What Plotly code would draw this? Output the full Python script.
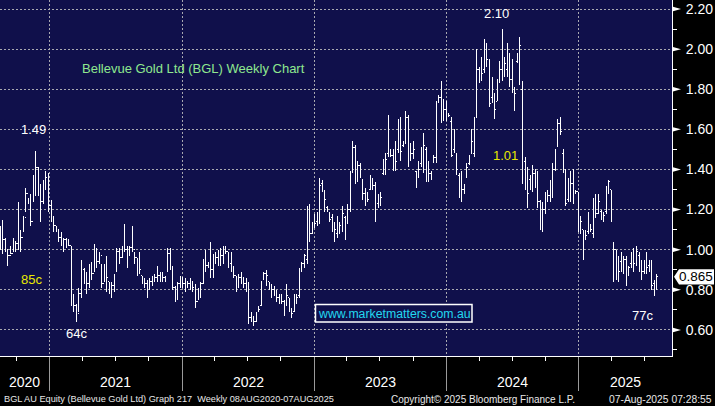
import pandas as pd
import plotly.graph_objects as go

# ---------------- data (weekly OHLC) ----------------
first_week = "2020-08-17"

highs = [1.12,1.15,1.06,1.00,1.02,1.06,1.04,1.24,1.10,1.17,1.31,1.26,1.28,1.37,1.49,1.41,1.33,1.35,1.39,1.38,
         1.25,1.17,1.12,1.10,1.09,1.06,1.06,1.05,1.02,0.78,0.73,0.81,0.95,0.91,0.89,0.93,0.94,1.03,1.01,0.99,
         0.93,0.93,0.97,0.84,0.84,0.88,1.01,1.01,1.02,1.13,1.02,1.02,1.12,0.99,0.96,0.99,0.87,0.86,0.85,0.86,
         0.87,0.88,0.92,0.89,0.89,0.87,1.01,1.01,0.92,0.82,0.84,0.87,0.86,0.86,0.84,0.86,0.84,0.83,0.81,0.84,
         0.95,1.00,0.94,1.04,0.98,0.99,1.00,1.01,1.02,1.02,0.99,0.99,0.92,0.87,0.88,0.89,0.86,0.86,0.84,0.69,
         0.67,0.69,0.72,0.84,0.89,0.90,0.84,0.83,0.82,0.80,0.78,0.78,0.75,0.83,0.76,0.71,0.78,0.78,0.91,0.94,
         0.98,1.22,1.23,1.14,1.18,1.19,1.36,1.35,1.30,1.22,1.19,1.18,1.14,1.17,1.14,1.22,1.17,1.23,1.39,1.54,
         1.52,1.44,1.43,1.35,1.31,1.29,1.37,1.36,1.34,1.28,1.29,1.45,1.48,1.67,1.50,1.50,1.54,1.65,1.66,1.54,
         1.69,1.67,1.53,1.54,1.39,1.44,1.51,1.58,1.51,1.44,1.39,1.47,1.74,1.77,1.84,1.75,1.74,1.68,1.66,1.60,
         1.48,1.38,1.39,1.33,1.43,1.47,1.60,1.66,2.00,1.91,1.96,2.05,2.03,1.95,1.86,1.78,1.85,1.94,2.10,1.96,
         2.03,1.98,1.95,1.81,1.98,2.06,1.84,1.46,1.41,1.37,1.42,1.40,1.39,1.25,1.24,1.29,1.30,1.35,1.43,1.50,
         1.65,1.66,1.50,1.40,1.36,1.39,1.40,1.30,1.29,1.17,1.10,1.10,1.19,1.13,1.26,1.28,1.28,1.20,1.19,1.32,
         1.35,1.30,1.04,1.00,0.97,0.99,0.97,0.97,0.92,0.99,1.01,1.02,0.99,0.95,0.95,0.99,0.95,0.95,0.85,0.88]

lows = [1.00,0.98,0.99,0.92,0.98,0.99,0.99,1.00,0.99,1.09,1.19,1.23,1.12,1.24,1.27,1.27,1.14,1.23,1.30,1.19,
        1.14,1.09,1.09,1.04,1.02,0.99,1.01,1.02,0.72,0.69,0.64,0.69,0.76,0.83,0.78,0.81,0.85,0.89,0.91,0.93,
        0.81,0.84,0.79,0.78,0.76,0.79,0.89,0.93,0.96,0.99,0.91,0.97,0.99,0.93,0.87,0.88,0.83,0.81,0.76,0.80,
        0.82,0.84,0.84,0.84,0.84,0.84,0.89,0.90,0.80,0.74,0.75,0.81,0.81,0.79,0.81,0.80,0.79,0.71,0.75,0.76,
        0.83,0.89,0.91,0.86,0.86,0.93,0.92,0.92,0.93,0.98,0.91,0.89,0.86,0.79,0.81,0.83,0.81,0.79,0.63,0.64,
        0.62,0.64,0.69,0.72,0.85,0.82,0.80,0.76,0.77,0.74,0.73,0.73,0.67,0.72,0.69,0.66,0.69,0.73,0.76,0.89,
        0.91,0.93,1.04,1.08,1.11,1.12,1.13,1.29,1.19,1.19,1.14,1.09,1.04,1.06,1.08,1.09,1.05,1.13,1.19,1.38,
        1.33,1.34,1.36,1.25,1.22,1.24,1.30,1.30,1.14,1.21,1.22,1.37,1.37,1.46,1.46,1.39,1.39,1.48,1.44,1.51,
        1.53,1.41,1.44,1.45,1.31,1.36,1.41,1.38,1.34,1.34,1.35,1.43,1.43,1.73,1.63,1.64,1.64,1.66,1.46,1.48,
        1.37,1.26,1.24,1.28,1.36,1.42,1.48,1.46,1.66,1.83,1.84,1.88,1.91,1.71,1.73,1.65,1.74,1.83,1.84,1.86,
        1.86,1.81,1.78,1.69,1.93,1.82,1.33,1.30,1.21,1.30,1.29,1.31,1.21,1.10,1.09,1.18,1.24,1.24,1.26,1.39,
        1.51,1.57,1.38,1.22,1.24,1.24,1.23,1.28,1.09,1.08,0.95,1.05,1.08,1.09,1.06,1.16,1.18,1.15,1.14,1.18,
        1.28,1.14,0.84,0.85,0.84,0.89,0.88,0.82,0.87,0.91,0.89,0.92,0.89,0.85,0.88,0.88,0.89,0.80,0.77,0.80]

closes = [1.05,1.05,1.00,0.97,0.98,1.04,1.03,1.02,1.06,1.16,1.28,1.24,1.14,1.36,1.41,1.30,1.24,1.34,1.36,1.22,
          1.16,1.12,1.10,1.06,1.04,1.05,1.05,1.02,0.75,0.72,0.68,0.78,0.90,0.88,0.83,0.90,0.88,0.97,0.94,0.97,
          0.83,0.90,0.86,0.81,0.82,0.86,0.99,0.96,0.99,1.00,0.97,1.01,1.00,0.96,0.90,0.90,0.85,0.83,0.82,0.84,
          0.85,0.86,0.87,0.86,0.86,0.85,0.98,0.93,0.81,0.77,0.83,0.86,0.83,0.84,0.83,0.84,0.81,0.74,0.79,0.83,
          0.95,0.92,0.93,0.90,0.96,0.96,0.98,0.97,1.00,0.99,0.93,0.91,0.87,0.85,0.86,0.86,0.83,0.82,0.66,0.66,
          0.64,0.67,0.70,0.84,0.88,0.87,0.82,0.80,0.78,0.76,0.75,0.74,0.73,0.77,0.70,0.68,0.74,0.76,0.90,0.93,
          0.97,1.20,1.08,1.10,1.13,1.12,1.32,1.33,1.25,1.20,1.15,1.11,1.10,1.12,1.12,1.18,1.15,1.20,1.38,1.51,
          1.37,1.42,1.38,1.28,1.25,1.25,1.34,1.32,1.23,1.24,1.26,1.42,1.45,1.63,1.47,1.40,1.44,1.62,1.49,1.53,
          1.66,1.45,1.48,1.50,1.37,1.40,1.45,1.52,1.42,1.38,1.37,1.46,1.70,1.76,1.72,1.70,1.67,1.67,1.47,1.58,
          1.40,1.28,1.30,1.30,1.41,1.44,1.54,1.62,1.90,1.88,1.88,2.00,1.95,1.73,1.75,1.70,1.80,1.90,1.88,1.93,
          1.97,1.85,1.79,1.78,1.96,2.02,1.44,1.40,1.28,1.30,1.38,1.33,1.24,1.13,1.20,1.22,1.27,1.30,1.40,1.48,
          1.63,1.59,1.43,1.23,1.30,1.33,1.29,1.29,1.12,1.14,1.06,1.07,1.12,1.10,1.20,1.18,1.24,1.18,1.17,1.30,
          1.34,1.14,1.00,0.92,0.89,0.90,0.95,0.89,0.91,0.95,0.93,0.99,0.94,0.89,0.92,0.91,0.90,0.82,0.80,0.865]

opens = [1.08,1.05,1.05,1.00,0.97,0.98,1.04,1.03,1.02,1.06,1.16,1.28,1.24,1.14,1.36,1.41,1.30,1.24,1.34,1.36,
         1.22,1.16,1.12,1.10,1.06,1.04,1.05,1.05,1.02,0.75,0.72,0.68,0.78,0.90,0.88,0.83,0.90,0.88,0.97,0.94,
         0.97,0.83,0.90,0.84,0.81,0.82,0.90,0.99,0.96,0.99,1.00,0.97,1.01,1.00,0.96,0.98,0.87,0.85,0.83,0.82,
         0.84,0.85,0.86,0.87,0.86,0.86,0.90,0.98,0.90,0.81,0.77,0.83,0.86,0.83,0.84,0.83,0.84,0.81,0.74,0.79,
         0.83,0.95,0.92,0.93,0.90,0.96,0.96,0.98,0.97,1.00,0.99,0.93,0.91,0.87,0.85,0.86,0.86,0.83,0.82,0.66,
         0.66,0.64,0.69,0.72,0.86,0.88,0.84,0.82,0.80,0.78,0.76,0.75,0.74,0.73,0.76,0.70,0.69,0.74,0.77,0.90,
         0.93,0.95,1.20,1.08,1.12,1.14,1.15,1.33,1.29,1.21,1.18,1.16,1.10,1.08,1.12,1.11,1.16,1.14,1.20,1.40,
         1.51,1.37,1.42,1.35,1.28,1.25,1.30,1.34,1.32,1.23,1.24,1.38,1.40,1.48,1.49,1.47,1.40,1.50,1.62,1.52,
         1.53,1.66,1.45,1.48,1.39,1.37,1.43,1.45,1.50,1.42,1.38,1.44,1.46,1.74,1.76,1.72,1.70,1.67,1.64,1.50,
         1.47,1.37,1.28,1.30,1.37,1.43,1.48,1.48,1.66,1.90,1.86,1.90,2.00,1.93,1.76,1.75,1.74,1.85,1.90,1.88,
         1.90,1.97,1.85,1.79,1.94,1.96,1.80,1.44,1.40,1.35,1.30,1.38,1.33,1.24,1.13,1.20,1.25,1.27,1.30,1.40,
         1.52,1.63,1.48,1.40,1.25,1.30,1.33,1.29,1.29,1.12,1.10,1.06,1.09,1.12,1.08,1.25,1.18,1.19,1.18,1.19,
         1.30,1.30,0.86,1.00,0.92,0.94,0.89,0.95,0.89,0.93,0.95,0.93,0.97,0.94,0.89,0.95,0.92,0.93,0.83,0.82]

y_ticks = [0.60, 0.80, 1.00, 1.20, 1.40, 1.60, 1.80, 2.00, 2.20]
y_range = [0.470, 2.245]
x_range = ["2020-08-16", "2025-09-15"]
year_starts = ["2021-01-01", "2022-01-01", "2023-01-01", "2024-01-01", "2025-01-01"]
quarter_ticks = ["2020-10-01", "2021-04-01", "2021-07-01", "2021-10-01", "2022-04-01", "2022-07-01",
                 "2022-10-01", "2023-04-01", "2023-07-01", "2023-10-01", "2024-04-01", "2024-07-01",
                 "2024-10-01", "2025-04-01", "2025-07-01"]
year_labels = ["2020", "2021", "2022", "2023", "2024", "2025"]
last_price = 0.865

dates = pd.date_range(first_week, periods=len(closes), freq="7D")

# ---------------- figure ----------------
NAVY = "#10104b"
GRID = "#a8a8b0"
W, H = 715, 406
L, R, T, B = 0, 43, 0, 50
PW, PH = W - L - R, H - T - B

def px(x):
    return (x - L) / PW

def py(y):
    return (H - B - y) / PH

fig = go.Figure()
fig.add_trace(go.Ohlc(
    x=dates, open=opens, high=highs, low=lows, close=closes,
    increasing=dict(line=dict(color="white", width=1)),
    decreasing=dict(line=dict(color="white", width=1)),
    tickwidth=0.4, hoverinfo="skip", showlegend=False,
))

FONT = "Liberation Sans, Arial, sans-serif"

fig.update_layout(
    width=W, height=H,
    margin=dict(l=L, r=R, t=T, b=B, pad=0),
    paper_bgcolor="black", plot_bgcolor=NAVY,
    font=dict(family=FONT, color="white"),
    showlegend=False,
    xaxis=dict(
        type="date", range=x_range, rangeslider=dict(visible=False),
        tickvals=year_starts, showticklabels=False,
        ticks="outside", ticklen=34, tickcolor="#9a9a9a", tickwidth=1,
        showgrid=True, gridcolor=GRID, griddash="2px,2px", gridwidth=1,
        showline=True, linecolor="white", linewidth=1,
        minor=dict(tickvals=quarter_ticks, ticks="outside", ticklen=4,
                   tickcolor="white", showgrid=False),
        zeroline=False, fixedrange=True,
    ),
    yaxis=dict(
        side="right", range=y_range, tickvals=y_ticks,
        ticktext=[f"{v:.2f}" for v in y_ticks],
        ticks="", ticklabelstandoff=10,
        tickfont=dict(size=14, color="white", family=FONT),
        showgrid=True, gridcolor=GRID, griddash="2px,2px", gridwidth=1,
        showline=True, linecolor="white", linewidth=1,
        minor=dict(dtick=0.1, ticks="outside", ticklen=4, tickcolor="white", showgrid=False),
        zeroline=False, fixedrange=True,
    ),
)

shapes = []
# triangle markers on the right axis at major ticks
for v in y_ticks:
    shapes.append(dict(
        type="path", xref="paper", yref="y",
        path=f"M {px(673)},{v + 0.011} L {px(681)},{v} L {px(673)},{v - 0.011} Z",
        fillcolor="white", line=dict(width=0),
    ))
# last price flag
shapes.append(dict(
    type="path", xref="paper", yref="y",
    path=(f"M {px(674)},{last_price} L {px(679)},{last_price + 0.038} L {px(714)},{last_price + 0.038} "
          f"L {px(714)},{last_price - 0.038} L {px(679)},{last_price - 0.038} Z"),
    fillcolor="white", line=dict(width=0),
))
# website box
shapes.append(dict(
    type="rect", xref="paper", yref="paper",
    x0=px(315.5), x1=px(472), y0=py(322), y1=py(304.5),
    line=dict(color="white", width=1.5), fillcolor=NAVY,
))
fig.update_layout(shapes=shapes)

ann = []

def text(x, y, s, size=13, color="white", xanchor="center"):
    ann.append(dict(x=px(x), y=py(y), xref="paper", yref="paper", text=s, showarrow=False,
                    xanchor=xanchor, yanchor="middle",
                    font=dict(size=size, color=color, family=FONT)))

text(194, 69, "Bellevue Gold Ltd (BGL) Weekly Chart", 13, "#8fe88f")
text(33, 129, "1.49", 13)
text(31, 279, "85c", 13, "#e8e800")
text(76, 333, "64c", 13)
text(496, 13, "2.10", 13)
text(505, 155, "1.01", 13, "#e8e800")
text(642, 315, "77c", 13)
text(394, 313.5, "www.marketmatters.com.au", 12.3, "#22d8f0")

# last price label
ann.append(dict(x=px(696), y=last_price, xref="paper", yref="y", text=f"{last_price:.3f}",
                showarrow=False, xanchor="center", yanchor="middle",
                font=dict(size=13.5, color="black", family=FONT)))

# year labels (centered in each visible year span)
year_centers = [24, 115, 248, 380, 512, 625]
for xc, lab in zip(year_centers, year_labels):
    text(xc, 382, lab, 14)

# footer
text(2, 399, "BGL AU Equity (Bellevue Gold Ltd) Graph 217  Weekly 08AUG2020-07AUG2025", 9.2, "#e8e8e8", "left")
text(389, 399, "Copyright\u00a9 2025 Bloomberg Finance L.P.", 10.0, "#e8e8e8", "left")
ann.append(dict(x=px(714), y=py(399), xref="paper", yref="paper", text="07-Aug-2025 07:28:55",
                showarrow=False, xanchor="right", yanchor="middle",
                font=dict(size=10.3, color="#e8e8e8", family=FONT)))

fig.update_layout(annotations=ann)
post = (
    "document.body.style.margin='0px';document.body.style.overflow='hidden';"
    "document.querySelectorAll('.ohlc path').forEach(function(p){p.style.shapeRendering='crispEdges';});"
)
fig.write_html("out.html", config={"displayModeBar": False}, post_script=post)
